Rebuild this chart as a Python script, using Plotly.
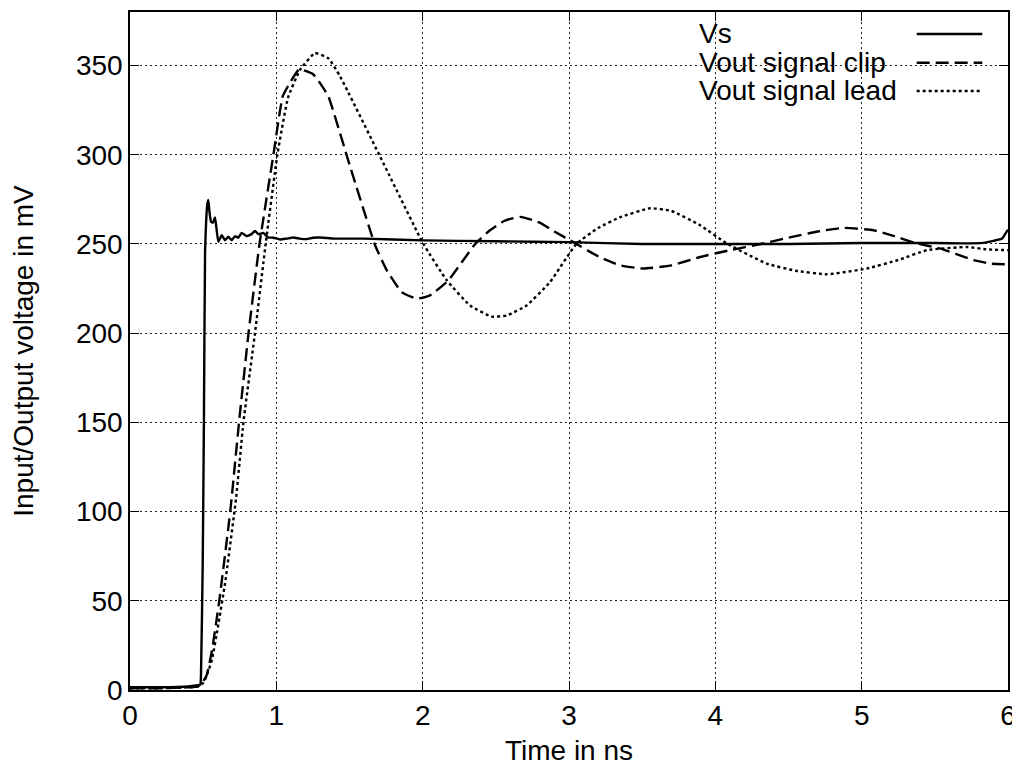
import plotly.graph_objects as go

# ---------------- data ----------------
vs_t = [0, 0.2, 0.4, 0.45, 0.48, 0.485, 0.497, 0.505, 0.513, 0.52, 0.528, 0.535, 0.543,
        0.554, 0.567, 0.581, 0.592, 0.604, 0.627, 0.649, 0.672, 0.695, 0.718, 0.74, 0.763,
        0.797, 0.83, 0.854, 0.877, 0.911, 0.945, 0.98, 1.025, 1.07, 1.116, 1.16, 1.208,
        1.25, 1.3, 1.4, 1.6, 2.0, 2.5, 3.0, 3.5, 4.0, 4.5, 5.0, 5.5, 5.7, 5.83, 5.9, 5.96,
        5.99, 6.0]
vs_v = [1.5, 1.5, 2, 2.5, 3, 8, 72, 150, 246, 262, 272, 274.6, 268,
        262.4, 262, 264.9, 258, 251.2, 254.9, 252.1, 254, 252.1, 254.4, 253.5, 256.2,
        254.4, 255.5, 257.3, 255.5, 256.2, 253.6, 253.5, 252.5, 253, 253.6, 253, 252.7,
        253.5, 253.6, 253, 253, 252, 251.5, 251, 250, 250, 250, 250.5, 250.5, 250.3, 250.6,
        251.7, 253, 256.8, 258]

clip_t = [0, 0.2, 0.4, 0.465, 0.5, 0.524, 0.56, 0.61, 0.685, 0.745, 0.81, 0.885, 0.98,
          1.044, 1.105, 1.155, 1.2, 1.253, 1.3, 1.356, 1.504, 1.675, 1.755, 1.857, 1.96,
          2.05, 2.176, 2.358, 2.46, 2.56, 2.666, 2.8, 2.9, 3.03, 3.2, 3.35, 3.509, 3.7,
          3.896, 4.1, 4.31, 4.5, 4.7, 4.876, 5.08, 5.2, 5.377, 5.54, 5.765, 5.88, 6.0]
clip_v = [1, 1, 1.5, 2, 5, 8.3, 22, 50, 100, 150, 200, 250, 300,
          332.8, 342, 347.8, 347, 345, 340, 332.6, 293.4, 249.3, 235.2, 223, 219.3,
          221.2, 229.6, 249.9, 257.7, 263, 265.2, 262, 257, 251, 243, 238, 236.2, 238,
          242.7, 246.5, 250, 253.5, 257, 259, 257.7, 255, 250.3, 247.4, 240.9, 239, 238.6]

lead_t = [0, 0.2, 0.4, 0.465, 0.5, 0.524, 0.56, 0.6, 0.65, 0.725, 0.775, 0.854, 0.927,
          1.007, 1.08, 1.162, 1.264, 1.356, 1.435, 1.709, 2.005, 2.165, 2.324, 2.47, 2.575,
          2.71, 2.87, 3.05, 3.2, 3.35, 3.554, 3.7, 3.896, 4.08, 4.35, 4.55, 4.762, 5.035,
          5.25, 5.445, 5.72, 5.85, 6.0]
lead_v = [1, 1, 1.5, 2, 4, 8, 17, 35, 60, 107.6, 150, 200, 250,
          300, 332, 347.6, 357, 354, 344, 299, 250, 229.6, 215.5, 209.3, 209.9,
          215.5, 228.6, 250, 259, 265, 270, 268.5, 260.5, 250.2, 239, 235, 233, 236.2,
          241, 246.5, 248.3, 247, 246.5]

series_names = ["Vs", "Vout signal clip", "Vout signal lead"]
x_ticks = [0, 1, 2, 3, 4, 5, 6]
y_ticks = [0, 50, 100, 150, 200, 250, 300, 350]

# ---------------- figure ----------------
FONT = "Liberation Sans, Arial, sans-serif"
FS = 28
dashes = ["solid", "13px,6px", "3px,3px"]

fig = go.Figure()
for name, t, v, d in zip(series_names, [vs_t, clip_t, lead_t], [vs_v, clip_v, lead_v], dashes):
    fig.add_trace(go.Scatter(x=t, y=v, mode="lines", name=name, showlegend=False,
                             line=dict(color="black", width=2.4, dash=d, shape="spline",
                                       smoothing=0.4)))

axis_common = dict(
    showline=True, linecolor="black", linewidth=1.5, mirror="allticks",
    ticks="inside", ticklen=9, tickwidth=1, tickcolor="black",
    showgrid=True, gridcolor="#222", gridwidth=1, griddash="2px,3px",
    zeroline=False, tickfont=dict(family=FONT, size=FS, color="black"),
)

fig.update_xaxes(range=[0, 6], tickvals=x_ticks,
                 title=dict(text="Time in ns", font=dict(family=FONT, size=FS, color="black"),
                            standoff=10),
                 **axis_common)
fig.update_yaxes(range=[0, 380], tickvals=y_ticks,
                 title=dict(text="Input/Output voltage in mV",
                            font=dict(family=FONT, size=FS, color="black"), standoff=34),
                 **axis_common)

# gnuplot-style key: text on the left, line sample on the right
key_y = [0.9676, 0.9252, 0.8835]
for name, d, ky in zip(series_names, dashes, key_y):
    fig.add_annotation(xref="paper", yref="paper", x=0.6458, y=ky, text=name,
                       showarrow=False, xanchor="left", yanchor="middle",
                       font=dict(family=FONT, size=FS, color="black"))
    fig.add_shape(type="line", xref="paper", yref="paper", x0=0.896, x1=0.9707,
                  y0=ky, y1=ky, line=dict(color="black", width=2.4, dash=d))

# the page adds an 8px body margin, so the figure is sized to end at the window edge
fig.update_layout(
    width=1012, height=765, autosize=False,
    margin=dict(l=122, r=12, t=4, b=83, autoexpand=False),
    paper_bgcolor="white", plot_bgcolor="white",
    font=dict(family=FONT, size=FS, color="black"),
)

fig.write_html("out.html")
